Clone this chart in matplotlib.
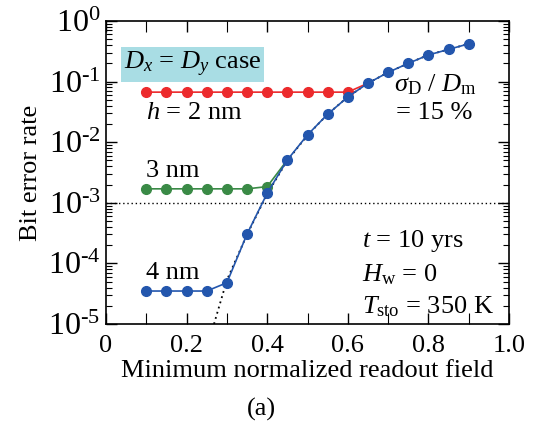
import numpy as np
import matplotlib
matplotlib.use('Agg')
import matplotlib.pyplot as plt
from matplotlib.ticker import LogLocator, MultipleLocator, FuncFormatter

plt.rcParams['font.family'] = ['Liberation Serif', 'DejaVu Serif']
plt.rcParams['mathtext.fontset'] = 'custom'
plt.rcParams['mathtext.rm'] = 'Liberation Serif'
plt.rcParams['mathtext.it'] = 'Liberation Serif:italic'
plt.rcParams['mathtext.sf'] = 'Liberation Serif'

# Data
x_h2 = [0.10, 0.15, 0.20, 0.25, 0.30, 0.35, 0.40, 0.45, 0.50, 0.55, 0.60]
y_h2 = [0.067] * 11
x_h2_line = x_h2 + [0.65]
y_h2_line = y_h2 + [0.094]

x_h3 = [0.10, 0.15, 0.20, 0.25, 0.30, 0.35, 0.40]
y_h3 = [1.7e-3, 1.7e-3, 1.7e-3, 1.7e-3, 1.7e-3, 1.7e-3, 1.85e-3]
x_h3_line = x_h3 + [0.45]
y_h3_line = y_h3 + [5.1e-3]

x_h4 = [0.10, 0.15, 0.20, 0.25, 0.30, 0.35, 0.40, 0.45, 0.50, 0.55,
        0.60, 0.65, 0.70, 0.75, 0.80, 0.85, 0.90]
y_h4 = [3.5e-5, 3.5e-5, 3.5e-5, 3.5e-5, 4.8e-5, 3.05e-4, 1.44e-3, 5.1e-3,
        0.0132, 0.029, 0.0557, 0.094, 0.142, 0.20, 0.275, 0.34, 0.42]

# analytic curve (dotted)
x_theory = [0.268, 0.30, 0.35, 0.40, 0.45, 0.50, 0.55, 0.60, 0.65, 0.70,
            0.75, 0.80, 0.85, 0.90]
y_theory = [1.0e-5, 5.3e-5, 3.0e-4, 1.4e-3, 5.0e-3, 0.013, 0.029, 0.056,
            0.094, 0.142, 0.20, 0.275, 0.34, 0.42]

ber_limit = 1e-3

red = '#ec2a2c'
green = '#3a8a46'
blue = '#2356ad'
fs = 19

fig = plt.figure(figsize=(5.34, 4.32), dpi=100)
ax = fig.add_axes([106 / 534, 1 - 324 / 432, 403 / 534, 303 / 432])

ax.axhline(ber_limit, color='black', ls=(0, (1, 2)), lw=1.0)
ax.plot(x_theory, y_theory, color='black', ls=(0, (1, 2)), lw=1.3)

ax.plot(x_h2_line, y_h2_line, color=red, lw=1.2)
ax.plot(x_h2, y_h2, 'o', color=red, ms=7)
ax.plot(x_h3_line, y_h3_line, color=green, lw=1.2)
ax.plot(x_h3, y_h3, 'o', color=green, ms=7)
ax.plot(x_h4, y_h4, '-o', color=blue, lw=1.2, ms=7)

ax.set_yscale('log')
ax.set_xlim(0, 1.0)
ax.set_ylim(1e-5, 1)

ax.set_xticks([0, 0.2, 0.4, 0.6, 0.8, 1.0])
ax.set_xticklabels(['0', '0.2', '0.4', '0.6', '0.8', '1.0'])
ax.xaxis.set_minor_locator(MultipleLocator(0.1))
ax.yaxis.set_major_locator(LogLocator(base=10, numticks=10))
ax.yaxis.set_minor_locator(LogLocator(base=10, subs=np.arange(2, 10), numticks=10))
ax.yaxis.set_major_formatter(FuncFormatter(
    lambda v, p: r'$10^{%s}$' % ('0' if v >= 1 else '\u2010%d' % round(-np.log10(v)))))

ax.tick_params(which='both', direction='in', top=True, right=True, labelsize=fs)
ax.tick_params(axis='y', labelsize=23, pad=4)
ax.tick_params(which='major', length=8, width=1)
ax.tick_params(which='minor', length=4, width=0.8)
ax.tick_params(axis='x', which='minor', length=8)
ax.tick_params(axis='x', pad=8)
for s in ax.spines.values():
    s.set_linewidth(1.2)

ax.set_xlabel('Minimum normalized readout field', fontsize=fs, labelpad=2)
ax.set_ylabel('Bit error rate', fontsize=fs, labelpad=4)

ax.text(0.045, 0.19, r'$D_x$ = $D_y$ case', fontsize=fs, va='center', ha='left',
        bbox=dict(facecolor='#a9dde4', edgecolor='none', pad=2))
ax.text(0.10, 0.03, r'$h$ = 2 nm', fontsize=fs, va='center')
ax.text(0.10, 3.3e-3, '3 nm', fontsize=fs, va='center')
ax.text(0.10, 7e-5, '4 nm', fontsize=fs, va='center')
ax.text(0.715, 0.088, r'$\sigma_{\mathrm{D}}$ / $D_{\mathrm{m}}$', fontsize=fs, va='center')
ax.text(0.72, 0.03, '= 15 %', fontsize=fs, va='center')
ax.text(0.635, 2.3e-4, r'$t$ = 10 yrs', fontsize=fs, va='center')
ax.text(0.635, 6.5e-5, r'$H_{\mathrm{w}}$ = 0', fontsize=fs, va='center')
ax.text(0.635, 1.9e-5, r'$T_{\mathrm{sto}}$ = 350 K', fontsize=fs, va='center')

fig.text(261 / 534, 1 - 409 / 432, '(a)', fontsize=fs, ha='center', va='center')

fig.savefig('out.png', dpi=100)
